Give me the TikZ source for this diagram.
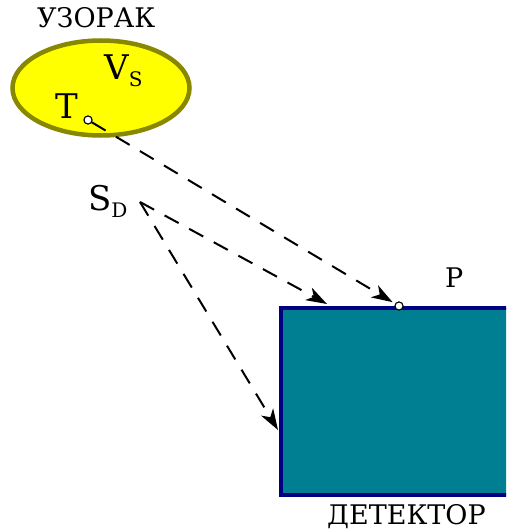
\documentclass[tikz,border=0pt]{standalone}
\usepackage{fontspec}
\setmainfont{DejaVu Serif}
\usetikzlibrary{arrows.meta,shapes.geometric}
\definecolor{srcfill}{RGB}{255,255,0}
\definecolor{srcline}{RGB}{135,135,0}
\definecolor{detfill}{RGB}{0,127,147}
\definecolor{detline}{RGB}{0,0,128}
\tikzset{
  lbl/.style={inner sep=0pt, anchor=base west, font=\fontsize{27}{27}\selectfont},
  big/.style={inner sep=0pt, anchor=base west, font=\fontsize{34}{34}\selectfont},
  ray/.style={line width=2pt, dash pattern=on 16pt off 12pt, -{Stealth[length=21pt,width=14pt,inset=6pt,sep=0pt]}},
  dot/.style={circle, draw=black, fill=white, line width=1pt, minimum size=8pt, inner sep=0pt},
}
\begin{document}
\begin{tikzpicture}[x=1pt,y=-1pt]
\useasboundingbox (0,0) rectangle (506,532);
% detector
\begin{scope}
\clip (0,0) rectangle (506,532);
\node[draw=detline, fill=detfill, line width=4pt, minimum width=300pt, minimum height=187pt, anchor=north west, inner sep=0pt] (det) at (279,306) {};
\end{scope}
% source
\node[ellipse, draw=srcline, fill=srcfill, line width=4.5pt, minimum width=177pt, minimum height=95pt, inner sep=0pt] (src) at (101,88) {};
\node[lbl] (uz) at (37,28) {УЗОРАК};
\node[big] (vs) at (104,80) {V\raisebox{-7pt}{\fontsize{20}{20}\selectfont S}};
\node[big] (tl) at (55,118) {T};
\node[big] (sd) at (88,210) {S\raisebox{-7pt}{\fontsize{20}{20}\selectfont D}};
\node[lbl] (pl) at (445,287) {P};
\node[lbl] (dl) at (327,524) {ДЕТЕКТОР};
% points
\coordinate (sdp) at (140,202);
\coordinate (e1) at (327,304);
\coordinate (e2) at (278,430);
\node[dot] (p) at (399,306) {};
\node[dot] (t) at (88,120) {};
\draw[ray, shorten >=3pt] (t) -- (p);
\draw[ray] (sdp) -- (e1);
\draw[ray] (sdp) -- (e2);
\node[dot] at (399,306) {};
\node[dot] at (88,120) {};
\end{tikzpicture}
\end{document}
